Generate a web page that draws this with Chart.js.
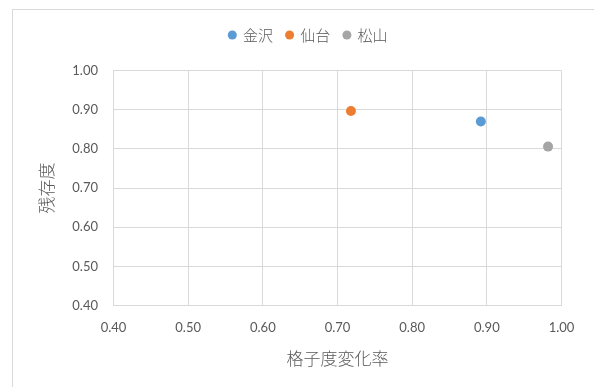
<!DOCTYPE html>
<html lang="ja">
<head>
<meta charset="utf-8">
<title>格子度変化率と残存度</title>
<script src="https://cdn.jsdelivr.net/npm/chart.js@4.4.1/dist/chart.umd.min.js"></script>
<style>
  html, body { margin: 0; padding: 0; background: #ffffff; }
  #wrap { width: 594px; height: 387px; }
</style>
</head>
<body>
<div id="wrap"><canvas id="chart" width="594" height="387"></canvas></div>
<script>
// City series and their (格子度変化率, 残存度) values
const cities = ['金沢', '仙台', '松山'];
const latticeChange = [0.892, 0.718, 0.982];
const survival = [0.870, 0.897, 0.806];
const cityColors = ['#5B9BD5', '#ED7D31', '#A5A5A5'];

// Axis tick range
const axisMin = 0.40;
const axisMax = 1.00;
const axisStep = 0.10;

const textColor = '#595959';
const gridColor = '#D9D9D9';
const latinFont = "Lato, 'Noto Sans CJK JP', sans-serif";
const cjkFont = "'Noto Sans CJK JP', sans-serif";

const datasets = cities.map((name, i) => ({
  label: name,
  data: [{ x: latticeChange[i], y: survival[i] }],
  backgroundColor: cityColors[i],
  borderColor: cityColors[i],
  borderWidth: 0,
  pointRadius: 5,
  pointHoverRadius: 5,
  pointStyle: 'circle'
}));

// Light frame around the whole chart, open to the right and bottom
const framePlugin = {
  id: 'frame',
  beforeDraw(chart) {
    const ctx = chart.ctx;
    ctx.save();
    ctx.fillStyle = '#ffffff';
    ctx.fillRect(0, 0, chart.width, chart.height);
    ctx.strokeStyle = gridColor;
    ctx.lineWidth = 1;
    ctx.strokeRect(12.5, 9.5, chart.width + 20, chart.height + 20);
    ctx.restore();
  }
};

// Reserve a fixed band at the top for the legend
const legendBand = {
  id: 'legendBand',
  beforeInit(chart) {
    const fit = chart.legend.fit;
    chart.legend.fit = function () {
      fit.call(this);
      this.height = 56.6;
    };
  }
};

new Chart(document.getElementById('chart'), {
  type: 'scatter',
  data: { datasets },
  plugins: [framePlugin, legendBand],
  options: {
    responsive: false,
    animation: false,
    devicePixelRatio: 1,
    layout: { padding: { left: 55.2, right: 32.5, top: 14.1, bottom: 0 } },
    plugins: {
      tooltip: { enabled: false },
      legend: {
        position: 'top',
        align: 'center',
        labels: {
          usePointStyle: true,
          pointStyle: 'circle',
          boxWidth: 6.4,
          boxHeight: 6.4,
          padding: 13.4,
          color: textColor,
          font: { family: cjkFont, size: 15, weight: 300 }
        }
      }
    },
    scales: {
      x: {
        type: 'linear',
        position: 'bottom',
        min: axisMin,
        max: axisMax,
        afterFit(scale) { scale.height = 81.5; },
        ticks: {
          stepSize: axisStep,
          padding: 14.5,
          color: textColor,
          font: { family: latinFont, size: 13 },
          callback: v => Number(v).toFixed(2)
        },
        grid: { color: gridColor, lineWidth: 1, drawTicks: false },
        border: { color: gridColor, width: 1 },
        title: {
          display: true,
          text: '格子度変化率',
          color: textColor,
          font: { family: cjkFont, size: 17, weight: 300 },
          padding: { top: 0, bottom: 17.8 }
        }
      },
      y: {
        type: 'linear',
        position: 'left',
        min: axisMin,
        max: axisMax,
        afterFit(scale) { scale.width = 58.3; },
        ticks: {
          stepSize: axisStep,
          padding: 15.5,
          color: textColor,
          font: { family: latinFont, size: 13 },
          callback: v => Number(v).toFixed(2)
        },
        grid: { color: gridColor, lineWidth: 1, drawTicks: false },
        border: { color: gridColor, width: 1 },
        title: {
          display: true,
          text: '残存度',
          color: textColor,
          font: { family: cjkFont, size: 17, weight: 300 },
          padding: { top: -18.4, bottom: 0 }
        }
      }
    }
  }
});
</script>
</body>
</html>
